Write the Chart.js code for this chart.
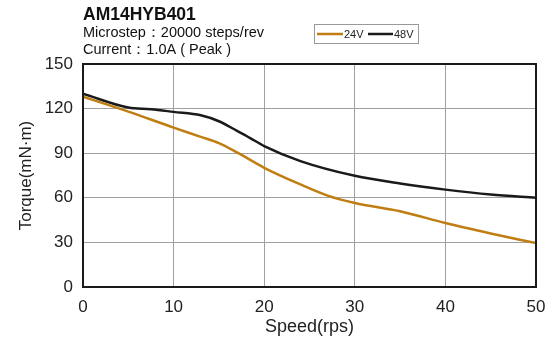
<!DOCTYPE html>
<html>
<head>
<meta charset="utf-8">
<script src="https://cdn.jsdelivr.net/npm/chart.js@4"></script>
<style>
  html, body { margin: 0; padding: 0; background: #fff; }
  #wrap { width: 550px; height: 338px; position: relative; }
</style>
</head>
<body>
<div id="wrap"><canvas id="torqueChart" width="550" height="338"></canvas></div>
<script>
// speed (rps) and torque (mN·m)
const speeds24V = [0, 5, 10, 13, 15, 17, 20, 24, 27, 30, 35, 40, 45, 50];
const torque24V = [128, 118, 107.2, 101, 96.8, 90.5, 80.2, 69, 61.5, 56.5, 51, 43, 36, 29.5];
const speeds48V = [0, 5, 7.5, 10, 13, 15, 17, 18.5, 20, 24, 30, 35, 40, 45, 50];
const torque48V = [130, 120.7, 119.6, 117.8, 115.5, 111.5, 105, 100, 94.8, 84.7, 74.8, 69.6, 65.5, 62.2, 60];
const xTicks = [0, 10, 20, 30, 40, 50];
const yTicks = [0, 30, 60, 90, 120, 150];

const titleLines = ['AM14HYB401', 'Microstep\uFF1A20000 steps/rev', 'Current\uFF1A1.0A ( Peak )'];
const seriesNames = ['24V', '48V'];
const seriesColors = ['#c07d12', '#1a1a1a'];

const fontFamily = 'Arial, "Liberation Sans", sans-serif';

function toPoints(xs, ys) {
  return xs.map((x, i) => ({ x: x, y: ys[i] }));
}

// header text and the small legend box
const headerPlugin = {
  id: 'header',
  afterDraw(chart) {
    const ctx = chart.ctx;
    ctx.save();
    ctx.fillStyle = '#111';
    ctx.textAlign = 'left';
    ctx.textBaseline = 'alphabetic';
    ctx.font = 'bold 17.5px ' + fontFamily;
    ctx.fillText(titleLines[0], 83, 20);
    ctx.font = '14.5px ' + fontFamily;
    ctx.fillText(titleLines[1], 83, 37);
    ctx.fillText(titleLines[2], 83, 54);

    // legend box
    ctx.strokeStyle = '#999';
    ctx.lineWidth = 1;
    ctx.strokeRect(314.5, 24.5, 104, 19);
    ctx.font = '11px ' + fontFamily;
    ctx.textBaseline = 'middle';
    const entries = [
      { x0: 317, x1: 343, tx: 344 },
      { x0: 368, x1: 393, tx: 394 }
    ];
    entries.forEach((e, i) => {
      ctx.strokeStyle = seriesColors[i];
      ctx.lineWidth = 2.5;
      ctx.beginPath();
      ctx.moveTo(e.x0, 34);
      ctx.lineTo(e.x1, 34);
      ctx.stroke();
      ctx.fillStyle = '#222';
      ctx.fillText(seriesNames[i], e.tx, 34.5);
    });
    ctx.restore();
  }
};

const ctx = document.getElementById('torqueChart').getContext('2d');
new Chart(ctx, {
  type: 'line',
  data: {
    datasets: [
      { label: seriesNames[0], data: toPoints(speeds24V, torque24V), borderColor: seriesColors[0], borderWidth: 2.5, pointRadius: 0, fill: false, cubicInterpolationMode: 'monotone' },
      { label: seriesNames[1], data: toPoints(speeds48V, torque48V), borderColor: seriesColors[1], borderWidth: 2.5, pointRadius: 0, fill: false, cubicInterpolationMode: 'monotone' }
    ]
  },
  options: {
    responsive: false,
    animation: false,
    layout: { padding: { left: 0, top: 64, right: 0, bottom: 0 } },
    plugins: { legend: { display: false }, tooltip: { enabled: false } },
    scales: {
      x: {
        type: 'linear',
        min: 0,
        max: 50,
        afterBuildTicks: (scale) => { scale.ticks = xTicks.map(v => ({ value: v })); },
        afterFit: (scale) => { scale.height = 51; scale.paddingRight = 14; },
        grid: { color: '#a0a0a0', lineWidth: 1, drawTicks: false },
        border: { color: '#1a1a1a', width: 2 },
        ticks: { color: '#222', font: { family: fontFamily, size: 17 }, padding: 10, maxRotation: 0 },
        title: { display: true, text: 'Speed(rps)', color: '#222', font: { family: fontFamily, size: 18 }, padding: { top: 0, bottom: 0 } }
      },
      y: {
        min: 0,
        max: 150,
        afterBuildTicks: (scale) => { scale.ticks = yTicks.map(v => ({ value: v })); },
        afterFit: (scale) => { scale.width = 83; },
        grid: { color: '#a0a0a0', lineWidth: 1, drawTicks: false },
        border: { color: '#1a1a1a', width: 2 },
        ticks: { color: '#222', font: { family: fontFamily, size: 17 }, padding: 10 },
        title: { display: true, text: 'Torque(mN\u00B7m)', color: '#222', font: { family: fontFamily, size: 17 }, padding: { top: 16, bottom: 0 } }
      }
    }
  },
  plugins: [headerPlugin, {
    id: 'frame',
    afterDatasetsDraw(chart) {
      const a = chart.chartArea;
      const c = chart.ctx;
      c.save();
      c.strokeStyle = '#1a1a1a';
      c.lineWidth = 2;
      c.strokeRect(a.left, a.top, a.right - a.left, a.bottom - a.top);
      c.restore();
    }
  }]
});
</script>
</body>
</html>
